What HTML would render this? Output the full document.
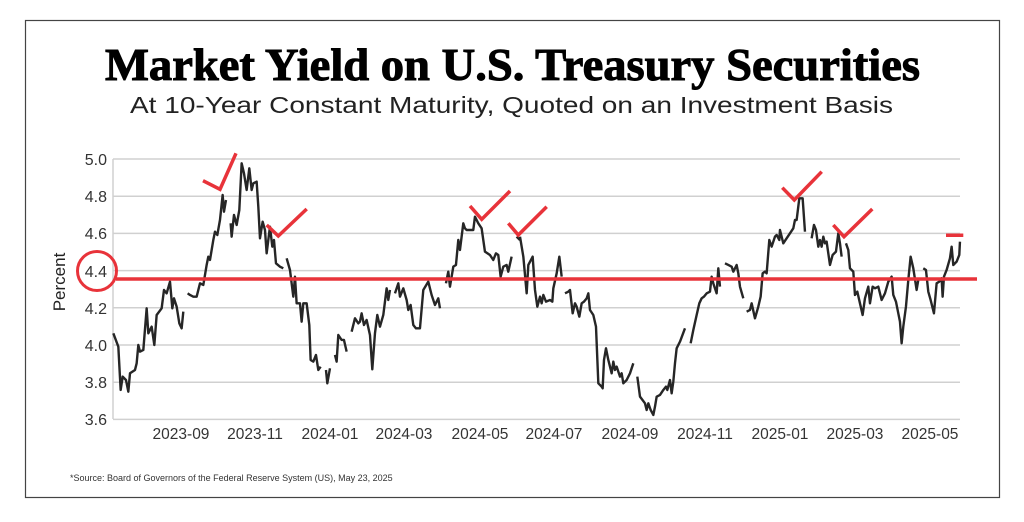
<!DOCTYPE html>
<html><head><meta charset="utf-8"><style>
html,body{margin:0;padding:0;background:#fff;width:1024px;height:522px;overflow:hidden}
svg{display:block}
</style></head><body>
<svg width="1024" height="522" viewBox="0 0 1024 522" xmlns="http://www.w3.org/2000/svg" font-family="Liberation Sans, sans-serif">
<rect x="0" y="0" width="1024" height="522" fill="#fff"/>
<rect x="25.5" y="20.5" width="974" height="477" fill="none" stroke="#444" stroke-width="1.2"/>
<text x="105" y="80" font-family="Liberation Serif, serif" font-weight="bold" font-size="46" textLength="815" lengthAdjust="spacingAndGlyphs" fill="#000" stroke="#000" stroke-width="1">Market Yield on U.S. Treasury Securities</text>
<text x="130" y="113" font-size="23" textLength="763" lengthAdjust="spacingAndGlyphs" fill="#222">At 10-Year Constant Maturity, Quoted on an Investment Basis</text>
<g stroke="#d0d0d0" stroke-width="1.5">
<line x1="113" y1="159" x2="960" y2="159"/><line x1="113" y1="196.2" x2="960" y2="196.2"/>
<line x1="113" y1="233.4" x2="960" y2="233.4"/><line x1="113" y1="270.6" x2="960" y2="270.6"/>
<line x1="113" y1="307.8" x2="960" y2="307.8"/><line x1="113" y1="345" x2="960" y2="345"/>
<line x1="113" y1="382.2" x2="960" y2="382.2"/><line x1="113" y1="419.4" x2="960" y2="419.4"/>
<line x1="113" y1="159" x2="113" y2="419"/>
</g>
<g font-size="16" fill="#333" text-anchor="end">
<text x="107" y="165">5.0</text><text x="107" y="202">4.8</text><text x="107" y="239">4.6</text>
<text x="107" y="277">4.4</text><text x="107" y="314">4.2</text><text x="107" y="351">4.0</text>
<text x="107" y="388">3.8</text><text x="107" y="425">3.6</text>
</g>
<text transform="translate(65,282) rotate(-90)" font-size="17" fill="#222" text-anchor="middle">Percent</text>
<g font-size="15.5" fill="#333" text-anchor="middle">
<text x="181" y="439">2023-09</text><text x="255" y="439">2023-11</text><text x="330" y="439">2024-01</text>
<text x="404" y="439">2024-03</text><text x="480" y="439">2024-05</text><text x="554" y="439">2024-07</text>
<text x="630" y="439">2024-09</text><text x="705" y="439">2024-11</text><text x="780" y="439">2025-01</text>
<text x="855" y="439">2025-03</text><text x="930" y="439">2025-05</text>
</g>
<g fill="none" stroke="#262626" stroke-width="2.4" stroke-linejoin="round">
<g transform="translate(40,140) scale(0.3333)">
<polyline vector-effect="non-scaling-stroke" points="220,580 235,620 242,750 248,710 258,720 265,755 270,700 285,690 290,670 295,615 300,635 310,630 320,505 325,580 335,560 343,615 350,525 365,505 372,450 380,460 390,425 397,505 402,475 410,500 418,550 425,565 430,515"/>
<polyline vector-effect="non-scaling-stroke" points="443,460 450,465 460,470 470,470 480,430 490,435 500,375 505,350 510,360 520,300 525,275 532,285 540,240 548,165 552,215 558,180"/>
<polyline vector-effect="non-scaling-stroke" points="572,250 575,290 582,225 590,255 598,210 605,70 612,100 620,150 628,85 635,150 640,130 650,125 655,200 660,295 668,245 675,270 680,340 690,260 697,320 702,300 708,370 720,380 730,385"/>
<polyline vector-effect="non-scaling-stroke" points="740,355 750,390 760,470 765,410 770,490 780,490 785,545 790,490 800,490 808,555 812,660 820,665 828,645 835,690 842,680"/>
<polyline vector-effect="non-scaling-stroke" points="858,690 862,730 870,685"/>
<polyline vector-effect="non-scaling-stroke" points="885,645 890,665 895,585 905,600 912,600 920,635"/>
<polyline vector-effect="non-scaling-stroke" points="935,575 945,535 955,550 960,545 965,520 972,555 980,540 990,585 997,688 1005,580 1012,525 1020,560 1030,525 1040,445 1045,480 1050,450"/>
<polyline vector-effect="non-scaling-stroke" points="1065,460 1075,430 1080,470 1090,445 1100,480 1105,510 1112,495 1120,555 1128,565 1140,565 1150,450 1165,425 1175,465 1185,495 1195,475 1200,505"/>
<polyline vector-effect="non-scaling-stroke" points="1218,430 1225,395 1230,440 1240,380 1248,375 1255,300 1260,330 1270,250 1275,265 1280,270 1290,270 1300,270 1305,230 1315,250 1325,265 1335,335 1350,345 1360,360 1368,340 1375,345 1382,410 1390,380 1400,375 1405,395 1415,350"/>
<polyline vector-effect="non-scaling-stroke" points="1430,290 1440,300"/>
</g>
<g transform="translate(520,140) scale(0.3333)">
<polyline vector-effect="non-scaling-stroke" points="0,290 10,350 20,460 25,375 38,350 45,450 52,500 60,470 65,490 70,465 78,485 90,480 97,485 100,445 110,400 118,350 125,410"/>
<polyline vector-effect="non-scaling-stroke" points="135,460 145,455 150,450 158,520 165,490 170,500 178,530 185,490 192,485 200,475 205,460 210,510 220,525 228,560 235,730 245,740 248,745 252,660 258,625 265,660 275,700 280,665 285,690 290,680 300,710 305,700 310,730 320,720 330,700 340,670"/>
<polyline vector-effect="non-scaling-stroke" points="352,710 360,770 375,790 380,810 385,790 392,810 400,825 405,800 410,770 420,765 430,750 438,740 442,750 450,720 455,760 460,725 465,670 470,625 480,605 495,565"/>
<polyline vector-effect="non-scaling-stroke" points="512,610 520,570 530,525 538,490 545,475 552,470 560,460 570,455 575,410 580,430 590,460 595,385 600,440"/>
<polyline vector-effect="non-scaling-stroke" points="615,370 625,375 635,380 640,395 650,375 655,400 660,440 670,475"/>
<polyline vector-effect="non-scaling-stroke" points="680,515 690,510 695,490 705,535 715,500 722,470 728,400 735,395 740,400 748,300 755,320 765,290 770,285 778,300 780,270 790,310 800,295 810,280 820,265 825,240 830,240 838,175 848,175 855,275"/>
<polyline vector-effect="non-scaling-stroke" points="875,295 882,255 888,270 895,320 900,300 905,320 910,290 915,310 920,305 930,375 938,345 948,335 955,280 960,310 965,350"/>
<polyline vector-effect="non-scaling-stroke" points="978,310 985,330 990,385 1000,395 1005,465 1012,455 1020,490 1028,525 1035,475 1045,440 1050,490 1058,440 1065,445 1075,440 1085,480 1095,460 1105,425 1115,410 1120,465 1128,485 1135,520 1140,545 1145,610 1150,560 1158,500 1165,420 1172,350 1180,385 1190,450 1195,420"/>
<polyline vector-effect="non-scaling-stroke" points="1210,385 1218,390 1225,455 1232,480 1242,520 1250,430 1258,425 1265,415 1268,470 1272,410 1280,390 1290,355 1295,320 1300,375 1310,365 1318,345 1320,305"/>
</g>
</g>
<g stroke="#e8333a" fill="none" stroke-width="3.5">
<line x1="116" y1="279" x2="977" y2="279"/>
<circle cx="97" cy="271" r="19.5" stroke-width="3"/>
<polyline points="203,180.7 220,189.3 236,153.3"/>
<polyline points="266.7,225 278.3,236 306.7,209"/>
<polyline points="470,206 481.7,219.3 510,191"/>
<polyline points="508.3,223.3 518.3,235 546.7,206.7"/>
<polyline points="782.3,187.7 794.3,200 821.7,171.7"/>
<polyline points="833.3,225 844,236.7 872.3,209"/>
<line x1="946" y1="235.3" x2="963.3" y2="235.3"/>
</g>
<text x="70" y="481" font-size="9" fill="#333">*Source: Board of Governors of the Federal Reserve System (US), May 23, 2025</text>
</svg>
</body></html>
